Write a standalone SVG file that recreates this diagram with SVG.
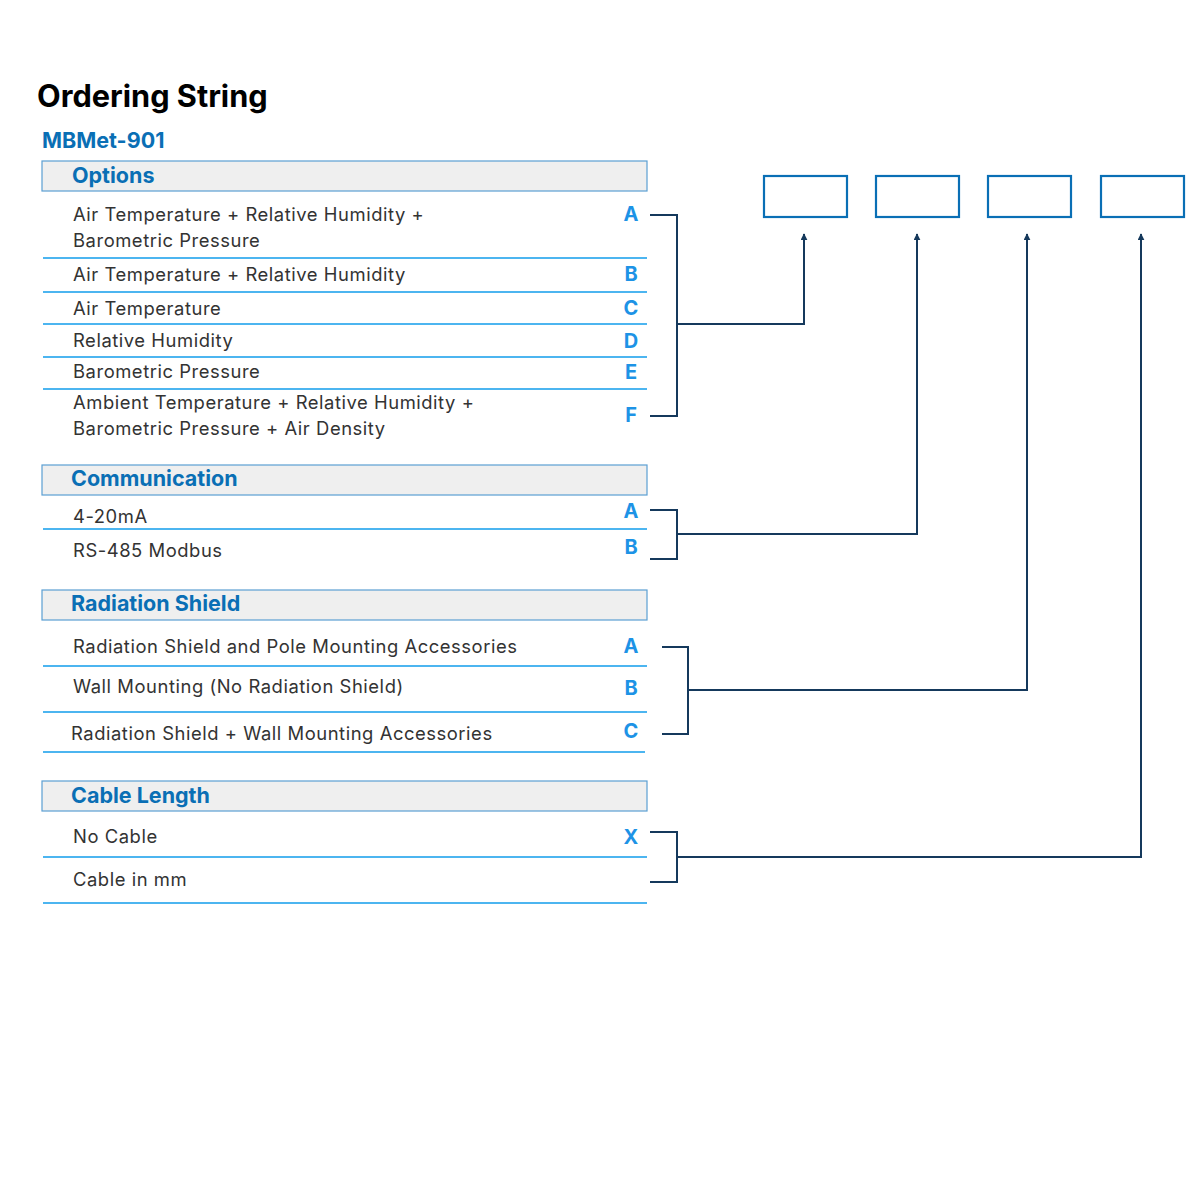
<svg xmlns="http://www.w3.org/2000/svg" width="1200" height="1200" viewBox="0 0 1200 1200">
<defs>
<style>
text{font-family:Inter,"Noto Sans","Liberation Sans",sans-serif}
.title{font-size:30.7px;font-weight:700;fill:#000}
.model{font-size:21.5px;font-weight:700;fill:#0a6fb5}
.hdr{fill:#efefef;stroke:#5b9fd3;stroke-width:1.2}
.htxt{font-size:21.5px;font-weight:700;fill:#0a6fb5}
.row{font-size:18.4px;fill:#333;letter-spacing:0.55px}
.code{font-size:20px;font-weight:700;fill:#1d93e6;text-anchor:middle}
.sep{stroke:#4cb5f0;stroke-width:2}
.box{fill:#fff;stroke:#0a6fb5;stroke-width:2.2}
.con{fill:none;stroke:#15395c;stroke-width:2}
</style>
<marker id="arr" viewBox="0 0 10 10" refX="9" refY="5" markerWidth="7" markerHeight="7" orient="auto" markerUnits="userSpaceOnUse">
<path d="M0,0 L10,5 L0,10 Z" fill="#15395c"/>
</marker>
</defs>
<rect width="1200" height="1200" fill="#fff"/>
<text class="title" x="37" y="107">Ordering String</text>
<text class="model" x="42" y="148">MBMet-901</text>

<g id="boxes">
<rect id="box1" class="box" x="764" y="176" width="83" height="41"/>
<rect id="box2" class="box" x="876" y="176" width="83" height="41"/>
<rect id="box3" class="box" x="988" y="176" width="83" height="41"/>
<rect id="box4" class="box" x="1101" y="176" width="83" height="41"/>
</g>

<g id="options">
<rect class="hdr" x="42" y="161" width="605" height="30"/>
<text class="htxt" x="72" y="183">Options</text>
<text class="row" x="73" y="221">Air Temperature + Relative Humidity +</text>
<text class="row" x="73" y="247">Barometric Pressure</text>
<text class="code" x="631" y="221">A</text>
<line class="sep" x1="43" y1="258" x2="647" y2="258"/>
<text class="row" x="73" y="281">Air Temperature + Relative Humidity</text>
<text class="code" x="631" y="281">B</text>
<line class="sep" x1="43" y1="292" x2="647" y2="292"/>
<text class="row" x="73" y="315">Air Temperature</text>
<text class="code" x="631" y="315">C</text>
<line class="sep" x1="43" y1="324" x2="647" y2="324"/>
<text class="row" x="73" y="347">Relative Humidity</text>
<text class="code" x="631" y="348">D</text>
<line class="sep" x1="43" y1="357" x2="647" y2="357"/>
<text class="row" x="73" y="378">Barometric Pressure</text>
<text class="code" x="631" y="379">E</text>
<line class="sep" x1="43" y1="389" x2="647" y2="389"/>
<text class="row" x="73" y="409">Ambient Temperature + Relative Humidity +</text>
<text class="row" x="73" y="435">Barometric Pressure + Air Density</text>
<text class="code" x="631" y="422">F</text>
</g>

<g id="communication">
<rect class="hdr" x="42" y="465" width="605" height="30"/>
<text class="htxt" x="71" y="486">Communication</text>
<text class="row" x="73" y="523">4-20mA</text>
<text class="code" x="631" y="518">A</text>
<line class="sep" x1="43" y1="529" x2="647" y2="529"/>
<text class="row" x="73" y="557">RS-485 Modbus</text>
<text class="code" x="631" y="554">B</text>
</g>

<g id="radiation">
<rect class="hdr" x="42" y="590" width="605" height="30"/>
<text class="htxt" x="71" y="611">Radiation Shield</text>
<text class="row" x="73" y="653">Radiation Shield and Pole Mounting Accessories</text>
<text class="code" x="631" y="653">A</text>
<line class="sep" x1="43" y1="666" x2="647" y2="666"/>
<text class="row" x="73" y="693">Wall Mounting (No Radiation Shield)</text>
<text class="code" x="631" y="695">B</text>
<line class="sep" x1="43" y1="712" x2="647" y2="712"/>
<text class="row" x="71" y="740">Radiation Shield + Wall Mounting Accessories</text>
<text class="code" x="631" y="738">C</text>
<line class="sep" x1="43" y1="752" x2="645" y2="752"/>
</g>

<g id="cable">
<rect class="hdr" x="42" y="781" width="605" height="30"/>
<text class="htxt" x="71" y="803">Cable Length</text>
<text class="row" x="73" y="843">No Cable</text>
<text class="code" x="631" y="844">X</text>
<line class="sep" x1="43" y1="857" x2="647" y2="857"/>
<text class="row" x="73" y="886">Cable in mm</text>
<line class="sep" x1="43" y1="903" x2="647" y2="903"/>
</g>

<g id="connectors">
<polyline class="con" points="650,215 677,215 677,416 650,416"/>
<polyline class="con" points="677,324 804,324 804,234" marker-end="url(#arr)"/>
<polyline class="con" points="650,510 677,510 677,559 650,559"/>
<polyline class="con" points="677,534 917,534 917,234" marker-end="url(#arr)"/>
<polyline class="con" points="662,647 688,647 688,734 662,734"/>
<polyline class="con" points="688,690 1027,690 1027,234" marker-end="url(#arr)"/>
<polyline class="con" points="650,832 677,832 677,882 650,882"/>
<polyline class="con" points="677,857 1141,857 1141,234" marker-end="url(#arr)"/>
</g>
</svg>
